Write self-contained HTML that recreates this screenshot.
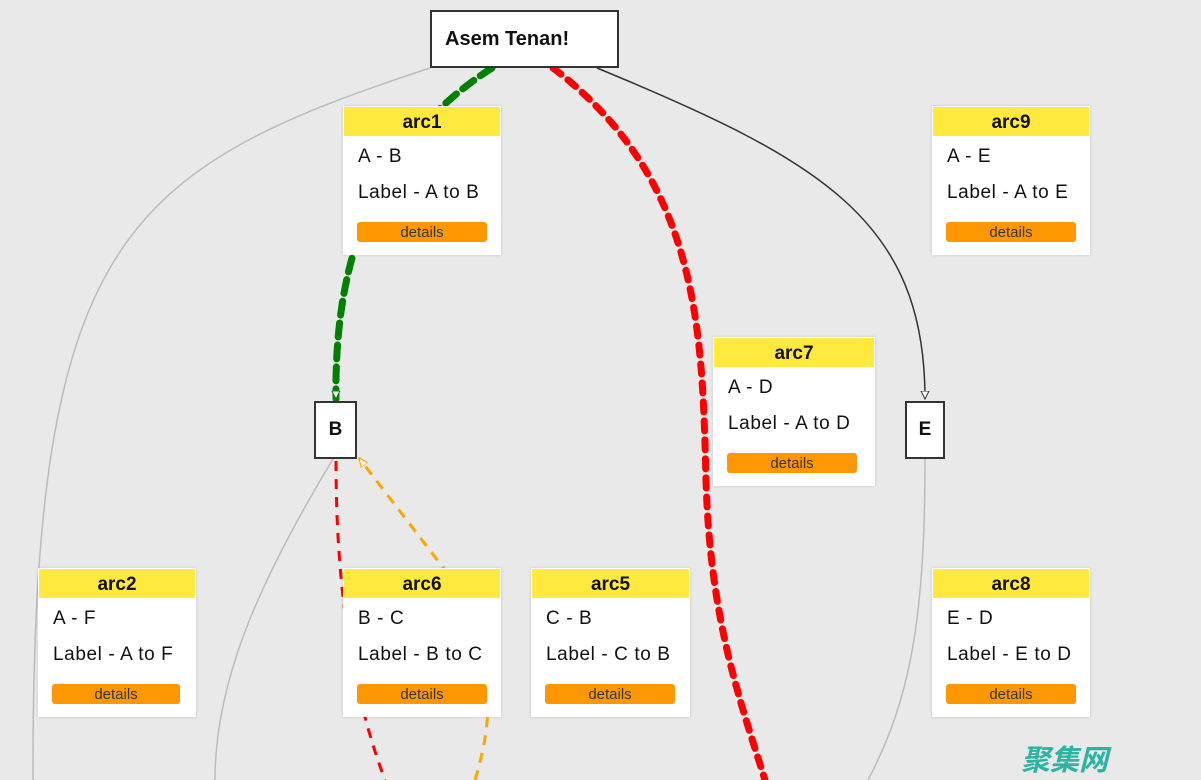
<!DOCTYPE html>
<html><head><meta charset="utf-8"><style>
body{margin:0;width:1201px;height:780px;background:#e9e9e9;overflow:hidden;position:relative;font-family:"Liberation Sans","Noto Sans CJK SC",sans-serif}
svg{position:absolute;left:0;top:0}
.card{position:absolute;width:158px;height:149px;background:#fff;box-shadow:0 0 3px rgba(0,0,0,.15)}
.card .h{margin:1px 1px 0;height:29px;background:#ffe93e;text-align:center;font-weight:bold;font-size:19px;line-height:32px;color:#111}
.card .l{position:absolute;left:15px;font-size:19px;color:#111;letter-spacing:0.6px}
.card .b{position:absolute;left:14px;top:116px;width:130px;height:20px;background:#ff9800;border-radius:3px;text-align:center;font-size:15px;line-height:21px;color:#333}
.node{position:absolute;background:#fff;border:2px solid #333;box-sizing:border-box;font-weight:bold;color:#111;display:flex;align-items:center;justify-content:center}
</style></head><body>
<svg width="1201" height="780">
<defs><marker id="ah" markerWidth="10" markerHeight="10" refX="8" refY="5" orient="auto" markerUnits="userSpaceOnUse"><path d="M0,1 L8,5 L0,9 Z" fill="#fff" stroke="#333" stroke-width="1"/></marker>
<marker id="ao" markerWidth="12" markerHeight="12" refX="9" refY="5" orient="auto" markerUnits="userSpaceOnUse"><path d="M0,1 L9,5 L0,9 Z" fill="#fff" stroke="orange" stroke-width="1.2"/></marker>
<marker id="ag" markerWidth="10" markerHeight="10" refX="8" refY="5" orient="auto" markerUnits="userSpaceOnUse"><path d="M0,1 L8,5 L0,9 Z" fill="#fff" stroke="green" stroke-width="1"/></marker></defs>
<path d="M430,68 C120,170 32,240 33,780" fill="none" stroke="#bbb" stroke-width="1.5"/>
<path d="M333,459 C260,580 215,680 215,780" fill="none" stroke="#bbb" stroke-width="1.5"/>
<path d="M925,459 C925,620 910,700 868,780" fill="none" stroke="#bbb" stroke-width="1.5"/>
<path d="M597,68 C820,160 925,220 925,399" fill="none" stroke="#333" stroke-width="1.5" marker-end="url(#ah)"/>
<path d="M492,68 C380,140 334,250 336,399" fill="none" stroke="green" stroke-width="7" stroke-dasharray="14,8" stroke-linecap="round" marker-end="url(#ag)"/>
<path d="M553,68 C700,180 702,330 706,480 C710,620 740,700 765,780" fill="none" stroke="red" stroke-width="7" stroke-dasharray="10,9" stroke-linecap="round"/>
<path d="M336,461 C336,600 355,700 385,780" fill="none" stroke="red" stroke-width="3" stroke-dasharray="10,8"/>
<path d="M475,780 C500,700 490,620 445,570 L359,458" fill="none" stroke="orange" stroke-width="3" stroke-dasharray="10,8" marker-end="url(#ao)"/>
</svg>
<div class="node" style="left:430px;top:10px;width:189px;height:58px;font-size:20px;justify-content:flex-start;padding-left:13px">Asem Tenan!</div>
<div class="node" style="left:314px;top:401px;width:43px;height:58px;font-size:19px">B</div>
<div class="node" style="left:905px;top:401px;width:40px;height:58px;font-size:19px">E</div>
<div class="card" style="left:343px;top:106px"><div class="h">arc1</div><div class="l" style="top:40px">A - B</div><div class="l" style="top:76px">Label - A to B</div><div class="b">details</div></div>
<div class="card" style="left:932px;top:106px"><div class="h">arc9</div><div class="l" style="top:40px">A - E</div><div class="l" style="top:76px">Label - A to E</div><div class="b">details</div></div>
<div class="card" style="left:713px;top:337px;width:162px"><div class="h">arc7</div><div class="l" style="top:40px">A - D</div><div class="l" style="top:76px">Label - A to D</div><div class="b">details</div></div>
<div class="card" style="left:38px;top:568px"><div class="h">arc2</div><div class="l" style="top:40px">A - F</div><div class="l" style="top:76px">Label - A to F</div><div class="b" style="width:128px">details</div></div>
<div class="card" style="left:343px;top:568px"><div class="h">arc6</div><div class="l" style="top:40px">B - C</div><div class="l" style="top:76px">Label - B to C</div><div class="b">details</div></div>
<div class="card" style="left:531px;top:568px;width:159px"><div class="h">arc5</div><div class="l" style="top:40px">C - B</div><div class="l" style="top:76px">Label - C to B</div><div class="b">details</div></div>
<div class="card" style="left:932px;top:568px"><div class="h">arc8</div><div class="l" style="top:40px">E - D</div><div class="l" style="top:76px">Label - E to D</div><div class="b">details</div></div>
<div style="position:absolute;left:1021px;top:740px;font-size:29px;font-weight:bold;font-style:italic;color:#2bb5a0;font-family:'Noto Sans CJK SC',sans-serif;line-height:36px">聚集网</div>
</body></html>
